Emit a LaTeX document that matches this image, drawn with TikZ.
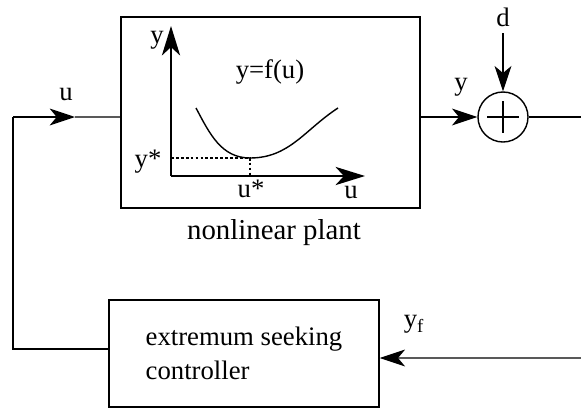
\documentclass[tikz,border=0pt]{standalone}
\usepackage{fontspec}
\setmainfont{Liberation Serif}
\usetikzlibrary{arrows.meta, calc, positioning}

\begin{document}
\begin{tikzpicture}[x=0.025cm, y=-0.025cm, line width=1pt,
    every node/.style={font=\fontsize{19}{24}\selectfont, inner sep=0pt},
    block/.style={draw, rectangle, inner sep=0pt},
    sig/.style={-{Stealth[length=18pt, width=12pt, inset=5pt]}},
    axis/.style={-{Stealth[length=21pt, width=13pt, inset=6pt]}},
    guide/.style={dash pattern=on 2pt off 1.5pt, line width=0.8pt}]
  \useasboundingbox (0,0) rectangle (581,408);
  % blocks
  \node[block, minimum width=7.475cm, minimum height=4.775cm] (plant) at (270.5,112.5) {};
  \node[block, minimum width=6.75cm, minimum height=2.675cm, align=left] (ctrl) at (244,353.5)
    {extremum seeking\\controller};
  \node[draw, circle, minimum size=1.25cm] (sum) at (503,117) {};
  \draw ($(sum)+(-16,0)$) -- ($(sum)+(16,0)$);
  \draw ($(sum)+(0,-16)$) -- ($(sum)+(0,16)$);
  % signal points
  \coordinate (plantin) at ($(plant.west)+(0,4.5)$);
  \coordinate (ctrlout) at ($(ctrl.west)+(0,-4.5)$);
  \coordinate (ctrlin) at ($(ctrl.east)+(0,4.5)$);
  \coordinate (corner) at (13,117);
  \coordinate (utip) at (75,117);
  \coordinate (din) at (503,33);
  \coordinate (yout) at (581,117);
  \coordinate (yfb) at (581,358);
  % connectors
  \draw (ctrlout) -| (corner);
  \draw[sig] (corner) -- (utip);
  \draw (utip) -- (plantin);
  \draw[sig] (plant.east |- sum) -- (sum.west);
  \draw (sum.east) -- (yout);
  \draw[sig] (din) -- (sum.north);
  \draw[sig] (yfb) -- (ctrlin);
  % signal labels
  \node at (66,94) {u};
  \node at (461,87) {y};
  \node at (503,17) {d};
  \node at (414,324) {y\textsubscript{f}};
  \node[font=\fontsize{20.5}{24}\selectfont] at (274,233) {nonlinear plant};
  % static map inside the plant
  \coordinate (O) at (171,176);
  \coordinate (ytop) at (171,26);
  \coordinate (xend) at (365,176);
  \coordinate (opt) at (250,158);
  \draw[axis] (O) -- (ytop);
  \draw[axis] (O) -- (xend);
  \draw[guide] (O |- opt) -- (opt) -- (O -| opt);
  \draw (196,108) to[out=-62, in=180] (opt) to[out=0, in=-147] (338,108);
  \node at (157,40) {y};
  \node at (351,192) {u};
  \node at (148,162) {y*};
  \node at (251,189) {u*};
  \node at (270,72) {y=f(u)};
\end{tikzpicture}
\end{document}
